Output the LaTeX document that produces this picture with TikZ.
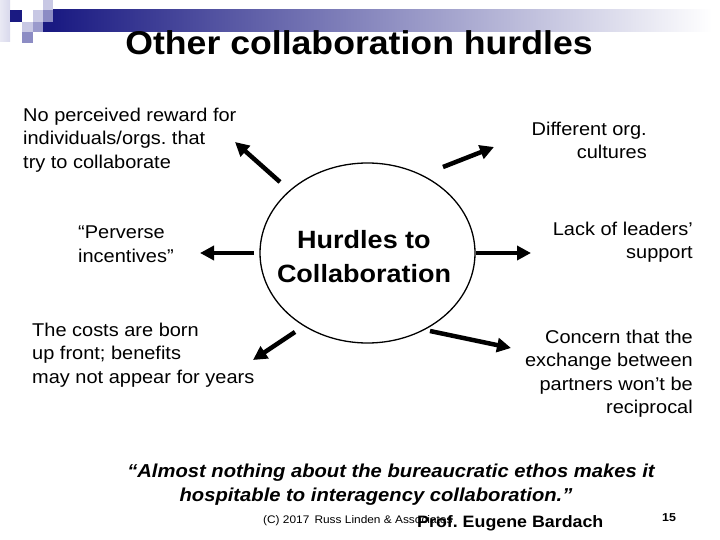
\documentclass[tikz,border=0pt]{standalone}
\usepackage{fontspec}
\setmainfont{Liberation Sans}[FakeStretch=1.08]
\usetikzlibrary{shapes.geometric,arrows.meta}
\definecolor{navy}{RGB}{26,26,130}
\definecolor{lav}{RGB}{200,200,228}
\definecolor{midlav}{RGB}{140,140,196}
\definecolor{lav2}{RGB}{154,154,204}
\tikzset{
  lbl/.style={inner sep=0pt, align=left, font=\fontsize{18.5}{23.3}\selectfont},
  rlbl/.style={inner sep=0pt, align=right, font=\fontsize{18.5}{23.3}\selectfont},
  bigarrow/.style={line width=4.5pt, -{Triangle[length=14pt,width=14pt]}},
}
\begin{document}
\frenchspacing
\begin{tikzpicture}[x=1pt,y=-1pt]
\useasboundingbox (0,0) rectangle (720,540);
\fill[white] (0,0) rectangle (720,540);
% decoration
\shade[left color=lav!40, right color=lav!70] (0,0) rectangle (10,42);
\fill[navy] (10,10) rectangle (22,22);
\fill[lav] (33,10) rectangle (43,22);
\fill[lav] (43,0) rectangle (53,10);
\fill[midlav] (43,10) rectangle (53,22);
\fill[lav] (22,22) rectangle (33,32);
\fill[lav2] (33,22) rectangle (43,32);
\fill[midlav] (22,32) rectangle (33,43);
\shade[left color=navy, right color=white] (53,10) rectangle (712,32);
\fill[navy] (43,22) rectangle (53,32);
% title
\node[inner sep=0pt, anchor=base, font=\fontsize{33}{36}\selectfont\bfseries] (title) at (359,55) {Other collaboration hurdles};
% center
\node[draw, line width=1.3pt, ellipse, minimum width=215pt, minimum height=180pt, inner sep=0pt] (hub) at (367.5,253) {};
\node[inner sep=0pt, align=center, font=\fontsize{25}{34}\selectfont\bfseries, anchor=north] (hubtxt) at (364,230) {Hurdles to\\Collaboration};
% labels
\node[lbl, anchor=north west] (t1) at (23,108) {No perceived reward for\\individuals/orgs. that\\try to collaborate};
\node[lbl, anchor=north west] (t2) at (78,226) {“Perverse\\incentives”};
\node[lbl, anchor=north west] (t3) at (32,323) {The costs are born\\up front; benefits\\may not appear for years};
\node[rlbl, anchor=north east] (t4) at (647,122) {Different org.\\cultures};
\node[rlbl, anchor=north east] (t5) at (693,222) {Lack of leaders’\\support};
\node[rlbl, anchor=north east] (t6) at (693,330) {Concern that the\\exchange between\\partners won’t be\\reciprocal};
% arrows
\coordinate (a1s) at (280,182); \coordinate (a1e) at (235,142);
\coordinate (a2s) at (254,253); \coordinate (a2e) at (200,253);
\coordinate (a3s) at (295,332); \coordinate (a3e) at (253,360);
\coordinate (a4s) at (443,167); \coordinate (a4e) at (494,147);
\coordinate (a5s) at (476,253); \coordinate (a5e) at (531,253);
\coordinate (a6s) at (430,331); \coordinate (a6e) at (511,348);
\draw[bigarrow] (a1s) -- (a1e);
\draw[bigarrow] (a2s) -- (a2e);
\draw[bigarrow] (a3s) -- (a3e);
\draw[bigarrow] (a4s) -- (a4e);
\draw[bigarrow] (a5s) -- (a5e);
\draw[bigarrow] (a6s) -- (a6e);
% quote
\node[inner sep=0pt, align=center, anchor=base, font=\fontsize{18.7}{24}\selectfont\bfseries\itshape] (quote) at (391,501) {“Almost nothing about the bureaucratic ethos makes it\\\hspace*{0pt}hospitable to interagency collaboration.”\hspace*{30pt}};
\node[inner sep=0pt, anchor=base west, font=\fontsize{11}{13}\selectfont] (copy) at (263,523) {(C) 2017\, Russ Linden \& Associates};
\node[inner sep=0pt, anchor=base west, font=\fontsize{16.5}{19}\selectfont\bfseries] (author) at (417,527) {Prof. Eugene Bardach};
\node[inner sep=0pt, anchor=base west, font=\fontsize{11.5}{13}\selectfont\bfseries] (pnum) at (662,521) {15};
\end{tikzpicture}
\end{document}
